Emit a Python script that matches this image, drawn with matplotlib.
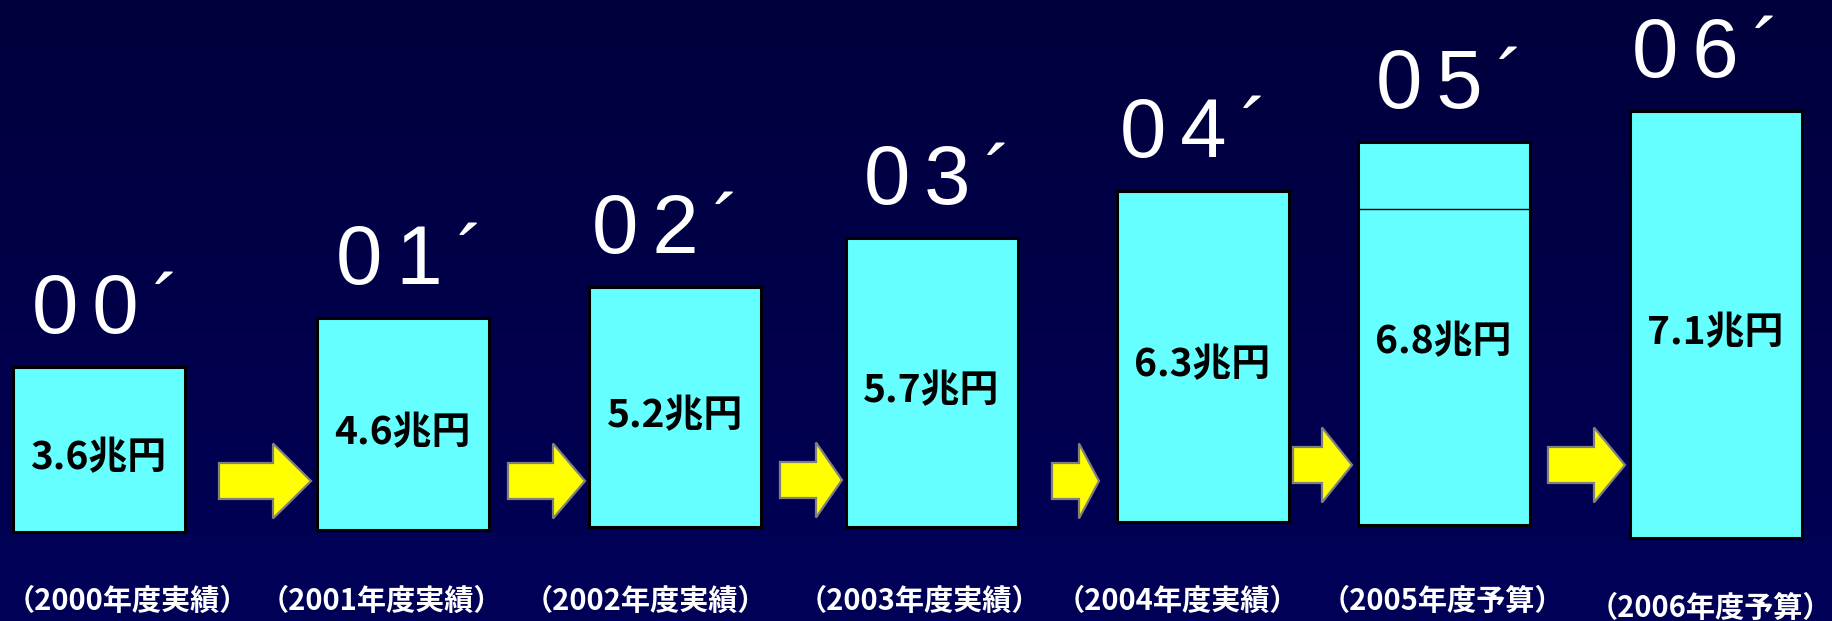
import numpy as np
import matplotlib
matplotlib.use("Agg")
import matplotlib.pyplot as plt
from matplotlib.colors import LinearSegmentedColormap

# data
values = [3.6, 4.6, 5.2, 5.7, 6.3, 6.8, 7.1]
years = ["00", "01", "02", "03", "04", "05", "06"]
cat_labels = ["（2000年度実績）", "（2001年度実績）", "（2002年度実績）", "（2003年度実績）",
              "（2004年度実績）", "（2005年度予算）", "（2006年度予算）"]
# drawn box extents (slide is not to scale), y measured from top of slide
box_top = [367, 318, 287, 238, 191, 142, 111]
box_bottom = [532, 530, 527, 527, 522, 525, 538]
budget_2005_line = 209   # divider inside the 2005 box

# layout
W, H = 1832, 621
bar_x = [98.5, 402.5, 675, 931.5, 1202.5, 1443.5, 1715.5]
bar_w = 172
year_x = [32, 336, 592, 864, 1120, 1376, 1632]
cat_x = [127, 381, 645, 919, 1177, 1442, 1710]
cat_y = [610, 610, 610, 610, 610, 610, 617]
# arrows: start, head base, tip, center y
arrows = [(219, 273, 311, 481), (508, 553, 585, 481), (780, 816, 842, 480),
          (1052, 1079, 1099, 481), (1293, 1322, 1352, 465), (1548, 1594, 1625, 465)]

cjk = ["Noto Sans CJK JP", "DejaVu Sans"]
sp = "\u2006"  # letter spacing used on the slide

fig = plt.figure(figsize=(W / 100, H / 100), dpi=100)
ax = fig.add_axes([0, 0, 1, 1])
ax.set_xlim(0, W)
ax.set_ylim(H, 0)
ax.axis("off")

bg = LinearSegmentedColormap.from_list("bg", ["#00003c", "#000058"])
ax.imshow(np.linspace(0, 1, 256).reshape(-1, 1), extent=[0, W, H, 0],
          cmap=bg, aspect="auto", zorder=0)

heights = [b - t for t, b in zip(box_top, box_bottom)]
ax.bar(bar_x, heights, bottom=box_top, width=bar_w, color="#66ffff",
       edgecolor="black", linewidth=2.2, zorder=2)
ax.hlines(budget_2005_line, bar_x[5] - bar_w / 2, bar_x[5] + bar_w / 2,
          color="black", linewidth=1, zorder=3)

for i, v in enumerate(values):
    mid = (box_top[i] + box_bottom[i]) / 2
    ax.text(bar_x[i], mid + 20, f"{v}兆円", ha="center", va="baseline",
            fontsize=28, fontweight="bold", color="black", family=cjk, zorder=4)
    ylab = sp.join(years[i] + "´")
    ax.text(year_x[i], box_top[i] - 34, ylab, ha="left", va="baseline",
            fontsize=60, color="white", family=["Liberation Sans", "DejaVu Sans"], zorder=4)
    ax.text(cat_x[i], cat_y[i], cat_labels[i], ha="center", va="baseline",
            fontsize=21, fontweight="bold", color="white", family=cjk, zorder=4)

for x0, xb, xt, yc in arrows:
    s, h = 18, 37.5
    pts = [(x0, yc - s), (xb, yc - s), (xb, yc - h), (xt, yc),
           (xb, yc + h), (xb, yc + s), (x0, yc + s)]
    ax.add_patch(plt.Polygon(pts, closed=True, facecolor="#ffff00",
                             edgecolor="#808080", linewidth=1.6, zorder=2))

fig.savefig("out.png", dpi=100)
